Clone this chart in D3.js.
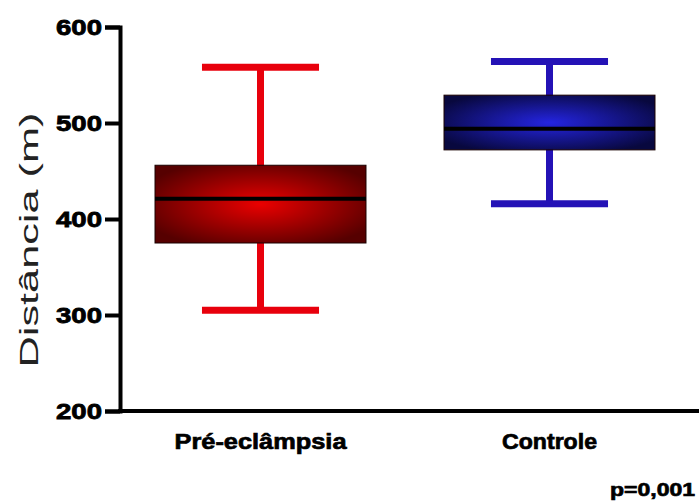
<!DOCTYPE html>
<html>
<head>
<meta charset="utf-8">
<script src="https://cdn.jsdelivr.net/npm/d3@7"></script>
<style>
  body { margin: 0; background: #fff; }
  svg { display: block; font-family: 'Liberation Sans', Arial, sans-serif; }
</style>
</head>
<body>
<div id="chart"></div>
<script>
// data
const categories = ['Pré-eclâmpsia', 'Controle'];
const minValues = [305, 416];
const q1Values = [375, 472];
const medianValues = [421, 494];
const q3Values = [456, 529];
const maxValues = [558, 564];
const yTicks = [200, 300, 400, 500, 600];

// colours per group
const groupColors = {
  'Pré-eclâmpsia': { whisker: '#e8000c', center: '#ea0000', edge: '#560000' },
  'Controle': { whisker: '#2412b6', center: '#2424e0', edge: '#08083e' }
};
// label widths (the original text is stretched)
const labelWidths = { 'Pré-eclâmpsia': 172, 'Controle': 95 };

const width = 699;
const height = 502;

const boxes = categories.map((c, i) => ({
  name: c,
  min: minValues[i],
  q1: q1Values[i],
  median: medianValues[i],
  q3: q3Values[i],
  max: maxValues[i]
}));

const svg = d3.select('#chart')
  .append('svg')
  .attr('width', width)
  .attr('height', height);

const x = d3.scaleBand()
  .domain(categories)
  .range([116, 694])
  .padding(0);

const y = d3.scaleLinear()
  .domain([200, 600])
  .range([411, 27]);

const boxWidth = x.bandwidth() * 0.73;
const capWidth = x.bandwidth() * 0.405;

// gradients
const defs = svg.append('defs');
boxes.forEach((d, i) => {
  const g = defs.append('radialGradient')
    .attr('id', 'grad-' + i)
    .attr('cx', '50%').attr('cy', '50%').attr('r', '60%');
  g.append('stop').attr('offset', '0%').attr('stop-color', groupColors[d.name].center);
  g.append('stop').attr('offset', '100%').attr('stop-color', groupColors[d.name].edge);
});

const groups = svg.append('g')
  .attr('id', 'boxes')
  .selectAll('g')
  .data(boxes)
  .enter()
  .append('g')
  .attr('transform', d => `translate(${x(d.name) + x.bandwidth() / 2},0)`);

// whisker stem
groups.append('line')
  .attr('x1', 0).attr('x2', 0)
  .attr('y1', d => y(d.min))
  .attr('y2', d => y(d.max))
  .attr('stroke', d => groupColors[d.name].whisker)
  .attr('stroke-width', 7);

// caps
groups.selectAll('.cap')
  .data(d => [{ v: d.min, name: d.name }, { v: d.max, name: d.name }])
  .enter()
  .append('line')
  .attr('class', 'cap')
  .attr('x1', -capWidth / 2).attr('x2', capWidth / 2)
  .attr('y1', d => y(d.v)).attr('y2', d => y(d.v))
  .attr('stroke', d => groupColors[d.name].whisker)
  .attr('stroke-width', 7);

// box
groups.append('rect')
  .attr('x', -boxWidth / 2)
  .attr('width', boxWidth)
  .attr('y', d => y(d.q3))
  .attr('height', d => y(d.q1) - y(d.q3))
  .attr('fill', (d, i) => `url(#grad-${i})`)
  .attr('stroke', '#1a0000')
  .attr('stroke-width', 1);

// median
groups.append('line')
  .attr('x1', -boxWidth / 2).attr('x2', boxWidth / 2)
  .attr('y1', d => y(d.median)).attr('y2', d => y(d.median))
  .attr('stroke', '#000')
  .attr('stroke-width', 4);

// y axis
const yAxis = svg.append('g')
  .attr('transform', 'translate(120,0)')
  .call(d3.axisLeft(y).tickValues(yTicks).tickSize(15).tickPadding(3));
yAxis.select('.domain').attr('stroke-width', 4);
yAxis.selectAll('.tick line').attr('stroke-width', 4);
yAxis.selectAll('.tick text')
  .attr('font-size', 22)
  .attr('font-weight', 'bold')
  .attr('fill', '#000')
  .attr('stroke', '#000')
  .attr('stroke-width', 0.8)
  .attr('textLength', 46)
  .attr('lengthAdjust', 'spacingAndGlyphs')
  .attr('font-family', "'Liberation Sans', Arial, sans-serif");

// x axis baseline
svg.append('line')
  .attr('x1', 118).attr('x2', width)
  .attr('y1', y(200)).attr('y2', y(200))
  .attr('stroke', '#000')
  .attr('stroke-width', 4);

const xAxis = svg.append('g')
  .attr('transform', `translate(0,${y(200)})`)
  .call(d3.axisBottom(x).tickSize(0).tickPadding(22));
xAxis.select('.domain').remove();
xAxis.selectAll('.tick text')
  .attr('font-size', 22)
  .attr('font-weight', 'bold')
  .attr('fill', '#000')
  .attr('stroke', '#000')
  .attr('stroke-width', 0.7)
  .attr('textLength', d => labelWidths[d])
  .attr('lengthAdjust', 'spacingAndGlyphs')
  .attr('font-family', "'Liberation Sans', Arial, sans-serif");

// axis title
svg.append('text')
  .attr('transform', 'translate(38,240) rotate(-90)')
  .attr('text-anchor', 'middle')
  .attr('font-size', 25)
  .attr('fill', '#222')
  .attr('textLength', 255)
  .attr('lengthAdjust', 'spacingAndGlyphs')
  .text('Distância (m)');

// p value
svg.append('text')
  .attr('x', 695)
  .attr('y', 496)
  .attr('text-anchor', 'end')
  .attr('font-size', 19)
  .attr('font-weight', 'bold')
  .attr('stroke', '#000')
  .attr('stroke-width', 0.7)
  .attr('textLength', 85)
  .attr('lengthAdjust', 'spacingAndGlyphs')
  .text('p=0,001');
</script>
</body>
</html>
